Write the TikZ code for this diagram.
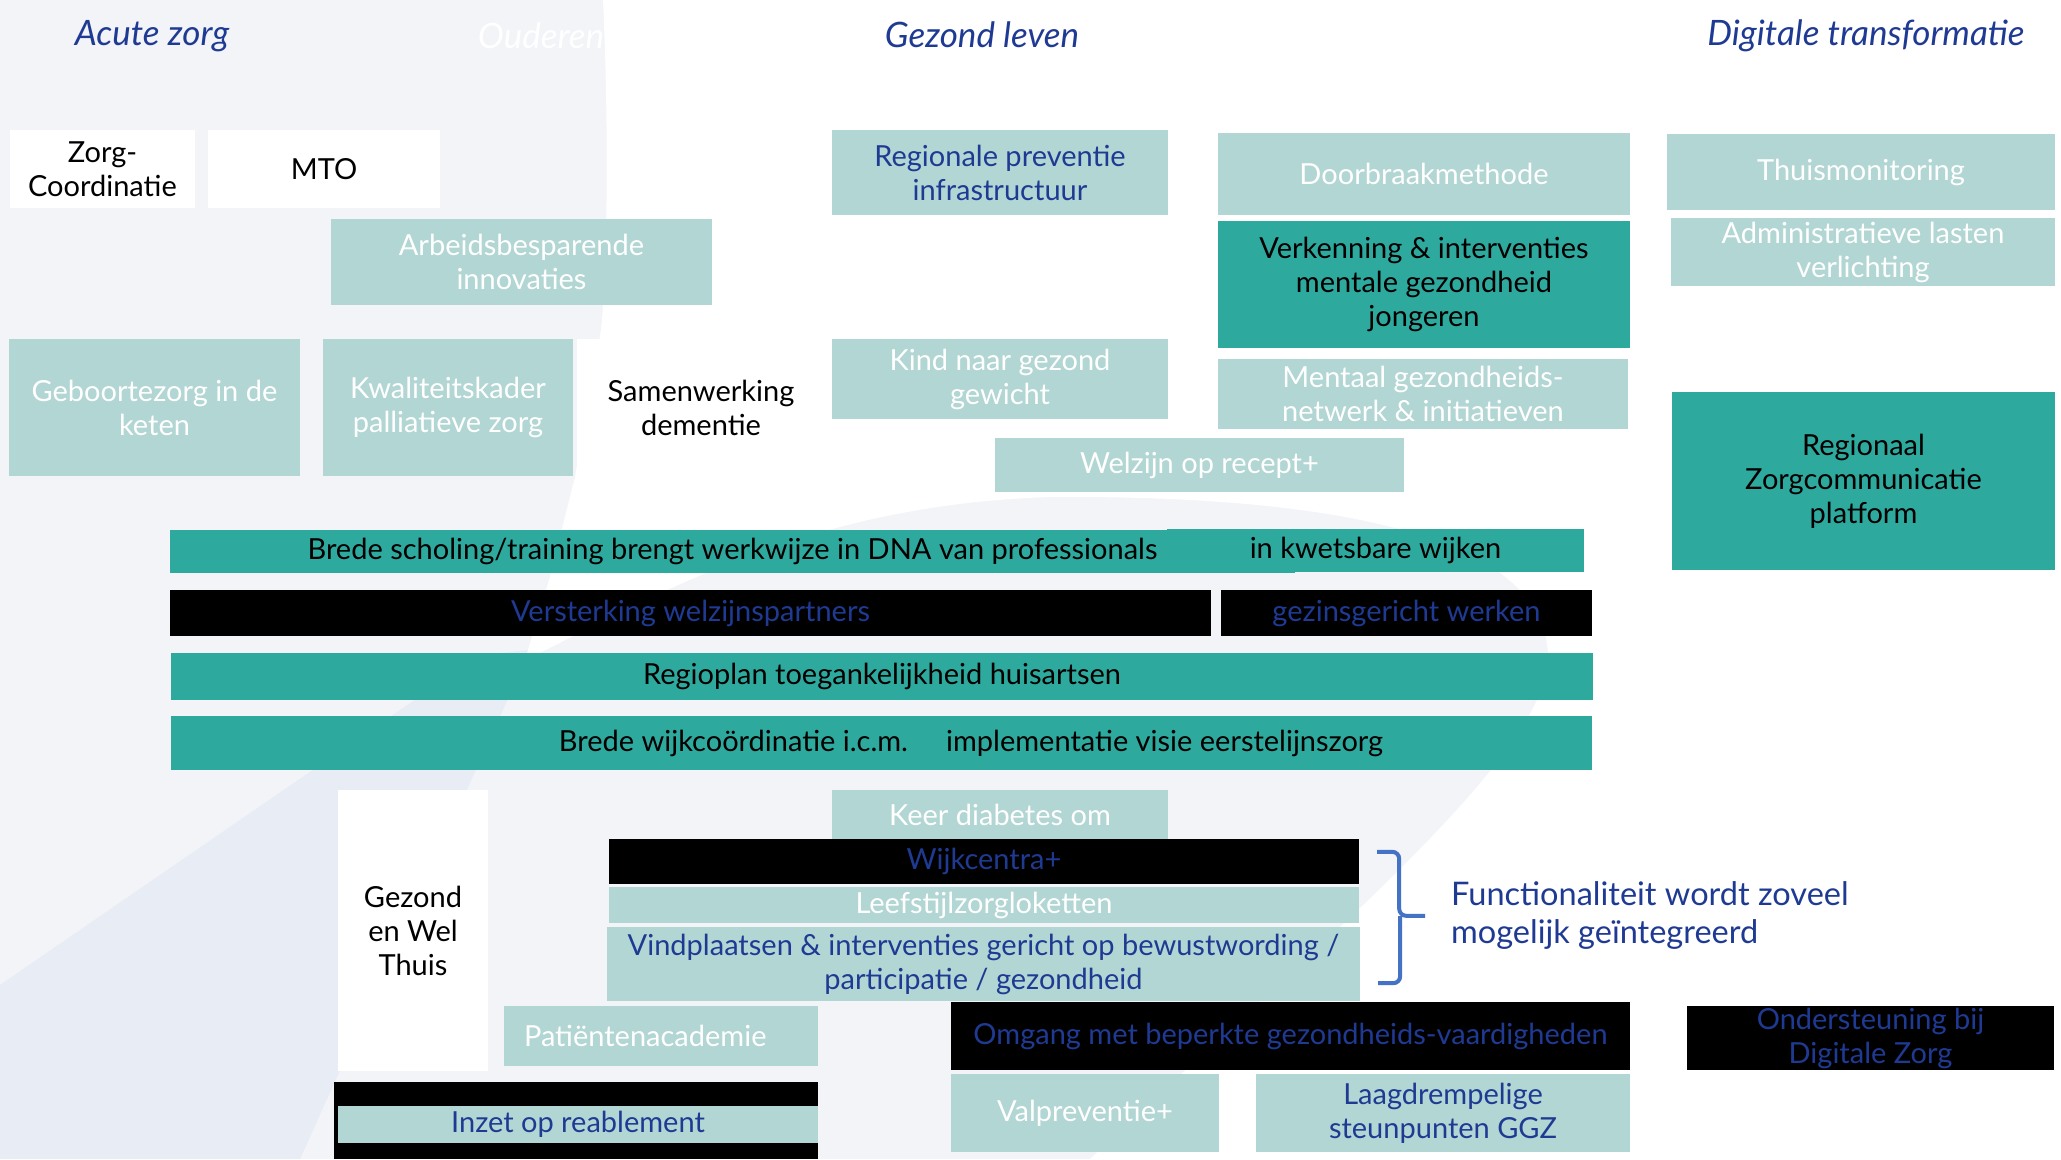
\documentclass[tikz,border=0pt]{standalone}
\usepackage{fontspec}
\setmainfont{Lato}

\definecolor{lichtgroen}{HTML}{B2D6D3}
\definecolor{donkergroen}{HTML}{2EA99E}
\definecolor{titelblauw}{HTML}{1F3A93}
\definecolor{accoladeblauw}{HTML}{4472C4}
\definecolor{achtergrond}{HTML}{F2F4F8}
\definecolor{band}{HTML}{E8ECF4}

\newcommand{\blokfont}{\fontsize{29}{34}\selectfont}
\newcommand{\titelfont}{\fontsize{35}{40}\selectfont\itshape}

\tikzset{
  blok/.style={rectangle, inner sep=0pt, align=center, font=\blokfont},
  licht/.style={blok, fill=lichtgroen, text=white},
  lichtblauw/.style={blok, fill=lichtgroen, text=titelblauw},
  donker/.style={blok, fill=donkergroen, text=black},
  zwart/.style={blok, fill=black, text=titelblauw},
  wit/.style={blok, fill=white, text=black},
  titel/.style={font=\titelfont, text=titelblauw, inner sep=0pt},
  accolade/.style={draw=accoladeblauw, line width=4pt, rounded corners=7pt},
}

\begin{document}
\begin{tikzpicture}[x=1pt, y=-1pt]
    \useasboundingbox (0,0) rectangle (2061,1159);
    \fill[achtergrond] (0,0) rectangle (2061,1159);
    \fill[band] (530,650) -- (300,1159) -- (0,1159) -- (0,985) -- (480,655) -- cycle;
    \fill[white] (603,0) .. controls (610,150) and (606,300) .. (600,336) -- (575,477) -- (549,580) -- (525,660)
        .. controls (650,600) and (800,505) .. (1050,497)
        .. controls (1350,495) and (1550,540) .. (1548,660)
        .. controls (1545,760) and (1300,960) .. (1090,1159) -- (2061,1159) -- (2061,0) -- cycle;

    \node[titel] (acute) at (152,36) {Acute zorg};
    \node[titel, text=white] (ouderen) at (541,36) {Ouderen};
    \node[titel] (gezond) at (982,35) {Gezond leven};
    \node[titel] (digitaal) at (1866,36) {Digitale transformatie};

    \node[wit, minimum width=185, minimum height=78] (zorgcoord) at (102.5,169) {Zorg-\\Coordinatie};
    \node[wit, minimum width=232, minimum height=78] (mto) at (324,169) {MTO};
    \node[licht, minimum width=381, minimum height=86] (arbeid) at (521.5,262) {Arbeidsbesparende\\innovaties};
    \node[lichtblauw, minimum width=336, minimum height=85] (preventie) at (1000,172.5) {Regionale preventie\\infrastructuur};
    \node[licht, minimum width=412, minimum height=82] (doorbraak) at (1424,174) {Doorbraakmethode};
    \node[donker, minimum width=412, minimum height=127] (verkenning) at (1424,284.5) {Verkenning \& interventies\\mentale gezondheid\\jongeren};
    \node[licht, minimum width=410, minimum height=70] (mentaal) at (1423,394) {Mentaal gezondheids-\\netwerk \& initiatieven};
    \node[licht, minimum width=388, minimum height=76] (thuismon) at (1861,172) {Thuismonitoring};
    \node[licht, minimum width=384, minimum height=68] (admin) at (1863,252) {Administratieve lasten\\verlichting};
    \node[donker, minimum width=383, minimum height=178] (platform) at (1863.5,481) {Regionaal\\Zorgcommunicatie\\platform};

    \node[licht, minimum width=291, minimum height=137] (geboorte) at (154.5,407.5) {Geboortezorg in de\\keten};
    \node[licht, minimum width=250, minimum height=137] (palliatief) at (448,407.5) {Kwaliteitskader\\palliatieve zorg};
    \node[wit, minimum width=249, minimum height=137] (dementie) at (701,407.5) {Samenwerking\\dementie};
    \node[licht, minimum width=336, minimum height=80] (kind) at (1000,379) {Kind naar gezond\\gewicht};
    \node[licht, minimum width=409, minimum height=54] (welzijn) at (1199.5,465) {Welzijn op recept+};

    \node[donker, minimum width=1125, minimum height=43] (scholing) at (732.5,551.5) {Brede scholing/training brengt werkwijze in DNA van professionals};
    \node[donker, minimum width=417, minimum height=43] (kwetsbaar) at (1375.5,550.5) {in kwetsbare wijken};
    \node[zwart, minimum width=1041, minimum height=46] (versterking) at (690.5,613) {Versterking welzijnspartners};
    \node[zwart, minimum width=371, minimum height=46] (gezin) at (1406.5,613) {gezinsgericht werken};
    \node[donker, minimum width=1422, minimum height=47] (regioplan) at (882,676.5) {Regioplan toegankelijkheid huisartsen};
    \node[donker, minimum width=1421, minimum height=54] (wijkcoord) at (881.5,743) {};
    \node[blok, text=black] (wijktekst) at (971,743) {Brede wijkcoördinatie i.c.m.\hspace{38pt}implementatie visie eerstelijnszorg};

    \node[wit, minimum width=150, minimum height=281] (thuis) at (413,930.5) {Gezond\\en Wel\\Thuis};
    \node[licht, minimum width=336, minimum height=50] (diabetes) at (1000,815) {Keer diabetes om};
    \node[zwart, minimum width=750, minimum height=45] (wijkcentra) at (984,861.5) {Wijkcentra+};
    \node[licht, minimum width=750, minimum height=36] (leefstijl) at (984,905) {Leefstijlzorgloketten};
    \node[lichtblauw, minimum width=753, minimum height=74] (vindplaats) at (983.5,964) {Vindplaatsen \& interventies gericht op bewustwording /\\participatie / gezondheid};
    \node[licht, minimum width=314, minimum height=60, text width=274, inner xsep=20pt, align=left] (patient) at (661,1036) {Patiëntenacademie};
    \node[blok, fill=black, minimum width=484, minimum height=77] (reablezwart) at (576,1120.5) {};
    \node[lichtblauw, minimum width=480, minimum height=37] (reable) at (578,1124.5) {Inzet op reablement};
    \node[zwart, minimum width=679, minimum height=68] (omgang) at (1290.5,1036) {Omgang met beperkte gezondheids-vaardigheden};
    \node[licht, minimum width=268, minimum height=78] (valpreventie) at (1085,1113) {Valpreventie+};
    \node[lichtblauw, minimum width=374, minimum height=78] (laagdrempel) at (1443,1113) {Laagdrempelige\\steunpunten GGZ};
    \node[zwart, minimum width=367, minimum height=64] (ondersteuning) at (1870.5,1038) {Ondersteuning bij\\Digitale Zorg};

    \coordinate (accboven) at ([xshift=18pt, yshift=-13pt]wijkcentra.north east);
    \coordinate (acconder) at ([xshift=18pt, yshift=18pt]vindplaats.south east);
    \draw[accolade] (accboven) -- ++(22,0) -- ++(0,64) -- ++(26,0);
    \draw[accolade] (acconder) -- ++(22,0) -- ++(0,-67);
    \node[font=\fontsize{32.5}{38}\selectfont, text=titelblauw, align=left, anchor=west, inner sep=0pt] (functie) at (1451,915) {Functionaliteit wordt zoveel\\mogelijk geïntegreerd};
\end{tikzpicture}
\end{document}
